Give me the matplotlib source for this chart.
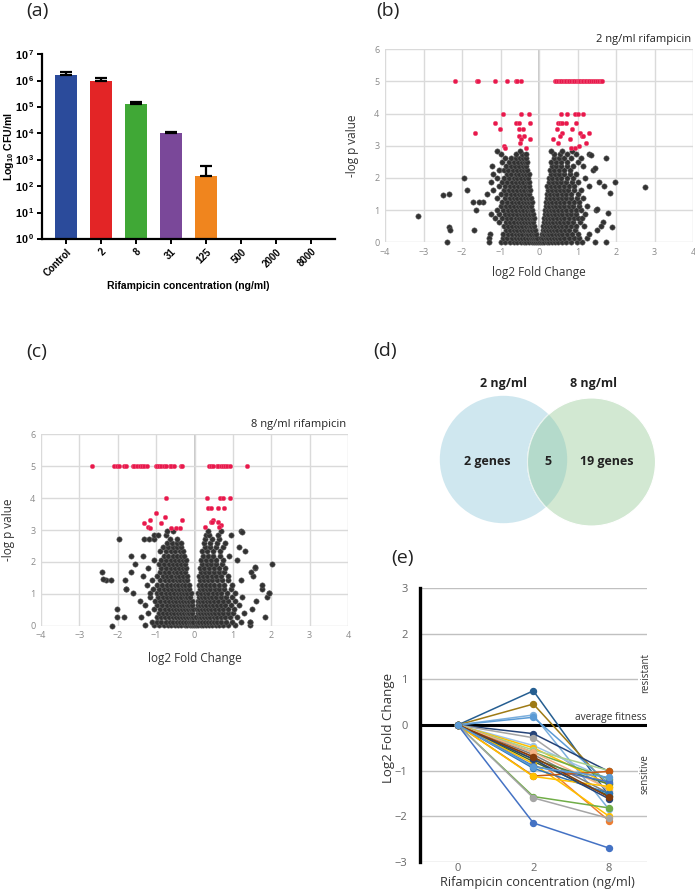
import matplotlib
matplotlib.use('Agg')
import matplotlib.pyplot as plt
from matplotlib.patches import Circle

plt.rcParams['font.family'] = ['Open Sans', 'DejaVu Sans']
plt.rcParams['mathtext.fontset'] = 'custom'
plt.rcParams['mathtext.rm'] = 'Liberation Sans'
plt.rcParams['mathtext.bf'] = 'Liberation Sans:bold'

# ---------------- data: panel (a) ----------------
cfu_labels = ['Control', '2', '8', '31', '125', '500', '2000', '8000']
cfu_mean = [1.6e6, 1.0e6, 1.26e5, 1.0e4, 240, 0, 0, 0]
cfu_err_top = [2.2e6, 1.3e6, 1.5e5, 1.15e4, 570, 0, 0, 0]
bar_colors = ['#2B4B9B', '#E32526', '#40A836', '#7A4899', '#F0851E', '#888888', '#888888', '#888888']

# ---------------- data: panel (b) 2 ng/ml ----------------
b_black_rows = [
    (0.02, [-1.0, -0.88, -0.76, -0.66, -0.57, -0.48, -0.4, -0.33, -0.26, -0.19, -0.13, -0.07, -0.02, 0.03, 0.08, 0.14, 0.2, 0.27, 0.34, 0.42, 0.5, 0.6, 0.7, 0.84, 0.98, 1.12]),
    (0.13, [-0.94, -0.82, -0.71, -0.61, -0.52, -0.44, -0.36, -0.29, -0.22, -0.16, -0.1, -0.05, 0.055, 0.11, 0.17, 0.235, 0.305, 0.38, 0.46, 0.55, 0.65, 0.77, 0.91, 1.05, 1.25]),
    (0.25, [-1.28, -0.93, -0.8, -0.69, -0.6, -0.51, -0.43, -0.35, -0.28, -0.21, -0.14, -0.08, 0.07, 0.13, 0.2, 0.27, 0.35, 0.43, 0.52, 0.61, 0.72, 0.85, 1.02, 1.3]),
    (0.38, [-0.87, -0.75, -0.65, -0.56, -0.47, -0.39, -0.32, -0.25, -0.18, -0.11, 0.1, 0.165, 0.235, 0.31, 0.39, 0.475, 0.565, 0.665, 0.785, 0.935, 1.5]),
    (0.5, [-0.92, -0.81, -0.7, -0.6, -0.51, -0.43, -0.35, -0.27, -0.2, -0.13, 0.1, 0.17, 0.25, 0.33, 0.42, 0.51, 0.6, 0.7, 0.82, 0.97, 1.18]),
    (0.62, [-1.05, -0.865, -0.755, -0.65, -0.555, -0.47, -0.39, -0.31, -0.235, -0.165, 0.135, 0.21, 0.29, 0.375, 0.465, 0.555, 0.65, 0.76, 0.895, 1.07]),
    (0.75, [-1.15, -0.95, -0.83, -0.72, -0.61, -0.52, -0.43, -0.35, -0.27, -0.19, -0.13, 0.13, 0.2, 0.28, 0.37, 0.46, 0.56, 0.66, 0.78, 0.9, 1.0, 1.12]),
    (0.88, [-1.25, -1.05, -0.89, -0.775, -0.665, -0.565, -0.475, -0.39, -0.31, -0.23, -0.16, 0.165, 0.24, 0.325, 0.415, 0.51, 0.61, 0.72, 0.84, 0.95, 1.2]),
    (1.0, [-1.1, -0.93, -0.8, -0.69, -0.59, -0.5, -0.41, -0.32, -0.24, -0.17, 0.15, 0.23, 0.31, 0.4, 0.5, 0.6, 0.71, 0.83, 0.96, 1.1, 1.48]),
    (1.12, [-1.0, -0.865, -0.745, -0.64, -0.545, -0.455, -0.365, -0.28, -0.205, 0.19, 0.27, 0.355, 0.45, 0.55, 0.655, 0.77, 0.895, 1.03, 1.25]),
    (1.25, [-1.45, -0.95, -0.82, -0.71, -0.61, -0.51, -0.42, -0.33, -0.25, -0.19, 0.17, 0.25, 0.34, 0.44, 0.54, 0.65, 0.77, 0.9, 1.05]),
    (1.38, [-1.1, -0.885, -0.765, -0.66, -0.56, -0.465, -0.375, -0.29, -0.22, 0.21, 0.295, 0.39, 0.49, 0.595, 0.71, 0.835, 0.975, 1.15]),
    (1.5, [-1.35, -0.98, -0.85, -0.73, -0.62, -0.52, -0.43, -0.34, -0.25, 0.2, 0.28, 0.38, 0.48, 0.59, 0.7, 0.83, 1.0]),
    (1.62, [-1.2, -0.915, -0.79, -0.675, -0.57, -0.475, -0.385, -0.295, -0.23, 0.24, 0.33, 0.43, 0.535, 0.645, 0.765, 0.915, 1.1]),
    (1.75, [-1.05, -0.88, -0.76, -0.64, -0.54, -0.45, -0.36, -0.27, 0.22, 0.31, 0.41, 0.52, 0.64, 0.77, 0.92, 1.3]),
    (1.88, [-1.25, -0.96, -0.82, -0.7, -0.59, -0.495, -0.405, -0.315, -0.25, 0.265, 0.36, 0.465, 0.58, 0.705, 0.845, 1.0]),
    (2.0, [-1.1, -0.9, -0.78, -0.66, -0.56, -0.46, -0.37, -0.28, 0.25, 0.35, 0.46, 0.58, 0.72, 0.88, 1.2]),
    (2.12, [-1.2, -0.84, -0.72, -0.61, -0.51, -0.415, -0.325, -0.27, 0.3, 0.405, 0.52, 0.65, 0.8, 0.95]),
    (2.25, [-1.05, -0.92, -0.8, -0.68, -0.57, -0.47, -0.38, -0.3, 0.28, 0.39, 0.51, 0.64, 0.8, 1.4]),
    (2.38, [-1.22, -0.86, -0.74, -0.625, -0.52, -0.425, -0.34, 0.335, 0.45, 0.575, 0.72, 0.88, 1.15]),
    (2.5, [-0.95, -0.78, -0.66, -0.55, -0.45, -0.36, -0.3, 0.32, 0.45, 0.58, 0.73, 1.0]),
    (2.62, [-0.88, -0.72, -0.605, -0.5, -0.405, -0.33, 0.385, 0.515, 0.655, 0.82, 1.1]),
    (2.75, [-1.0, -0.6, -0.45, -0.35, 0.4, 0.55, 0.72, 0.95, 1.3]),
    (2.85, [-1.1, -0.5, 0.3, 0.6, 0.85]),
]
b_sparse = [(-3.15, 0.82), (-2.5, 1.47), (-2.35, 1.5), (-2.35, 0.47), (-2.3, 0.38), (-2.4, 0.02),
            (-1.95, 2.0), (-1.88, 1.62), (-1.72, 1.25), (-1.68, 0.37), (-1.63, 1.0), (-1.55, 1.25),
            (-1.3, 0.12), (-1.3, 0.02), (2.75, 1.72), (1.98, 1.88), (1.75, 2.62), (1.85, 1.52),
            (1.8, 0.92), (1.9, 0.47), (1.75, 0.02), (1.45, 0.02), (1.5, 1.05), (1.55, 1.88),
            (1.65, 0.62), (1.62, 0.5), (1.7, 1.75), (1.35, 2.7), (1.45, 2.3)]
b_red_rows = [
    (5.0, [-2.17, -1.62, -1.58, -1.14, -0.84, -0.6, -0.56, -0.47,
           0.41, 0.45, 0.5, 0.54, 0.58, 0.63, 0.67, 0.71, 0.75, 0.79, 0.83, 0.88, 0.92, 0.96, 1.0,
           1.03, 1.07, 1.11, 1.15, 1.19, 1.23, 1.27, 1.31, 1.35, 1.4, 1.45, 1.5, 1.55, 1.6, 1.64]),
    (4.0, [-0.93, -0.48, -0.26, 0.56, 0.74, 0.94, 1.0, 1.15]),
    (3.7, [-1.14, -0.61, -0.52, -0.24, 0.5, 0.54, 0.59, 0.69, 0.97]),
    (3.52, [-1.02, -0.51, -0.41, 0.46, 0.87]),
    (3.4, [-1.66, 0.6, 1.06, 1.29]),
    (3.3, [-0.53, -0.38, 0.54, 1.11, 1.15]),
    (3.2, [-0.48, -0.23, 0.37, 0.8]),
    (3.1, [-0.5, 0.5, 1.23]),
    (2.98, [-0.9, 1.03]),
    (2.92, [-0.88, -0.35, 0.82, 0.93]),
]

# ---------------- data: panel (c) 8 ng/ml ----------------
c_black_rows = [
    (0.02, [-1.3, -1.05, -0.92, -0.8, -0.7, -0.6, -0.51, -0.42, -0.34, -0.26, -0.19, -0.12, -0.06, -0.01, 0.04, 0.1, 0.16, 0.23, 0.3, 0.38, 0.46, 0.55, 0.64, 0.74, 0.88, 1.05, 1.45]),
    (0.13, [-1.1, -0.985, -0.86, -0.75, -0.65, -0.555, -0.465, -0.38, -0.3, -0.225, -0.155, -0.09, -0.035, 0.07, 0.13, 0.195, 0.265, 0.34, 0.42, 0.505, 0.595, 0.69, 0.81, 0.965, 1.2, 1.45]),
    (0.26, [-1.4, -0.99, -0.87, -0.76, -0.66, -0.57, -0.48, -0.4, -0.32, -0.24, -0.17, -0.1, -0.04, 0.05, 0.11, 0.18, 0.25, 0.33, 0.41, 0.5, 0.59, 0.69, 0.8, 0.93, 1.1]),
    (0.4, [-1.2, -0.93, -0.815, -0.71, -0.615, -0.525, -0.44, -0.36, -0.28, -0.205, -0.135, -0.07, 0.08, 0.145, 0.215, 0.29, 0.37, 0.455, 0.545, 0.64, 0.745, 0.865, 1.0, 1.3]),
    (0.52, [-1.05, -0.9, -0.78, -0.67, -0.57, -0.48, -0.4, -0.32, -0.24, -0.17, -0.1, -0.05, 0.06, 0.12, 0.19, 0.27, 0.35, 0.44, 0.53, 0.63, 0.74, 0.87, 1.02, 1.5]),
    (0.65, [-1.3, -0.975, -0.84, -0.725, -0.62, -0.525, -0.44, -0.36, -0.28, -0.205, -0.135, -0.075, 0.09, 0.155, 0.23, 0.31, 0.395, 0.485, 0.58, 0.685, 0.805, 0.945, 1.15]),
    (0.78, [-1.42, -1.02, -0.89, -0.77, -0.66, -0.56, -0.47, -0.38, -0.3, -0.22, -0.15, -0.07, 0.08, 0.15, 0.23, 0.32, 0.41, 0.51, 0.62, 0.74, 0.88, 1.05, 1.6]),
    (0.9, [-1.15, -0.955, -0.83, -0.715, -0.61, -0.515, -0.425, -0.34, -0.26, -0.185, -0.11, 0.115, 0.19, 0.275, 0.365, 0.46, 0.565, 0.68, 0.81, 0.965, 1.25, 1.9]),
    (1.03, [-1.6, -1.16, -0.99, -0.86, -0.74, -0.63, -0.53, -0.44, -0.35, -0.27, -0.19, -0.1, 0.1, 0.18, 0.27, 0.36, 0.47, 0.58, 0.7, 0.85, 1.06, 1.94]),
    (1.16, [-1.78, -1.075, -0.925, -0.8, -0.685, -0.58, -0.485, -0.395, -0.31, -0.23, -0.145, 0.14, 0.225, 0.315, 0.415, 0.525, 0.64, 0.775, 0.955, 1.77]),
    (1.29, [-1.25, -0.97, -0.84, -0.72, -0.61, -0.51, -0.42, -0.33, -0.24, -0.14, 0.11, 0.2, 0.3, 0.4, 0.52, 0.64, 0.78, 0.97, 1.75]),
    (1.42, [-2.3, -2.17, -1.81, -1.1, -0.905, -0.78, -0.665, -0.56, -0.465, -0.375, -0.285, -0.19, 0.155, 0.25, 0.35, 0.46, 0.58, 0.71, 0.875, 1.2]),
    (1.55, [-1.35, -0.99, -0.83, -0.71, -0.6, -0.49, -0.4, -0.3, -0.19, 0.13, 0.23, 0.33, 0.45, 0.57, 0.7, 0.86, 1.53]),
    (1.68, [-2.4, -1.66, -0.91, -0.77, -0.655, -0.545, -0.445, -0.35, -0.245, 0.18, 0.28, 0.39, 0.51, 0.635, 0.78, 1.46]),
    (1.81, [-1.2, -0.86, -0.73, -0.61, -0.5, -0.4, -0.3, -0.22, 0.15, 0.26, 0.37, 0.5, 0.64, 0.8, 1.57]),
    (1.94, [-1.54, -0.93, -0.795, -0.67, -0.555, -0.45, -0.35, -0.26, 0.205, 0.315, 0.435, 0.57, 0.72, 2.01]),
    (2.07, [-1.05, -0.86, -0.74, -0.62, -0.51, -0.41, -0.31, -0.23, 0.17, 0.29, 0.42, 0.57, 0.75, 1.1]),
    (2.2, [-1.66, -1.35, -0.8, -0.68, -0.565, -0.46, -0.36, -0.27, 0.23, 0.355, 0.495, 0.66, 0.9]),
    (2.33, [-0.9, -0.75, -0.62, -0.5, -0.39, -0.3, 0.2, 0.33, 0.48, 0.66, 1.32]),
    (2.46, [-0.825, -0.685, -0.56, -0.445, -0.345, 0.265, 0.405, 0.57, 0.75, 1.15]),
    (2.59, [-0.72, -0.58, -0.45, -0.35, 0.25, 0.4, 0.58, 0.8]),
    (2.72, [-1.96, -1.32, -1.18, -1.06, -0.65, -0.45, 0.28, 0.45, 0.63]),
    (2.85, [-1.06, -0.95, -0.75, 0.31, 0.38, 0.62, 0.95]),
    (2.97, [-0.72, -0.56, 0.36, 0.7, 1.22]),
]
c_sparse = [(-2.14, 0.0), (-2.03, 0.26), (-2.03, 0.52), (-2.38, 1.45), (-1.78, 1.14),
            (-1.84, 0.26), (1.84, 0.26), (1.45, 0.13), (1.94, 1.04), (1.57, 1.85), (1.24, 2.93)]
c_red_rows = [
    (5.0, [-2.68, -2.1, -2.03, -1.98, -1.83, -1.79, -1.61, -1.57, -1.51, -1.42, -1.38, -1.32, -1.25,
           -1.01, -0.97, -0.92, -0.87, -0.8, -0.74, -0.64, -0.6, -0.54, -0.36, -0.32,
           0.38, 0.43, 0.49, 0.58, 0.62, 0.68, 0.75, 0.8, 0.85, 0.92, 1.36]),
    (4.0, [-0.73, 0.33, 0.66, 0.73, 0.92]),
    (3.7, [0.36, 0.43, 0.6, 0.77]),
    (3.52, [-1.01]),
    (3.4, [-0.78]),
    (3.3, [-1.17, -0.32, 0.49]),
    (3.25, [0.42, 0.46, 0.6]),
    (3.22, [-1.32, -0.86]),
    (3.15, [0.68]),
    (3.1, [-1.21, 0.27, 0.64]),
    (3.05, [-1.17, -0.6, -0.49, -0.38]),
]

# ---------------- data: panel (d) ----------------
venn_sets = ['2 ng/ml', '8 ng/ml']
venn_counts = ['2 genes', '5', '19 genes']

# ---------------- data: panel (e) ----------------
e_conc = ['0', '2', '8']
e_at2 = [0.75, 0.46, 0.22, 0.17, -0.19, -0.28, -0.45, -0.5, -0.55, -0.6, -0.65, -0.6, -0.7,
         -0.75, -0.8, -0.85, -0.9, -0.95, -1.12, -1.13, -1.57, -1.6, -2.15, -0.75, -0.7, -0.92]
e_at8 = [-1.55, -1.35, -1.85, -1.28, -1.02, -1.45, -1.2, -1.3, -1.0, -1.18, -1.5, -1.4, -2.1,
         -1.3, -1.55, -2.0, -1.25, -1.5, -1.02, -1.35, -1.82, -2.05, -2.7, -1.62, -1.58, -1.15]
e_colors = ['#255E91', '#9E7A14', '#7CAFDD', '#5B9BD5', '#264478', '#A5A5A5', '#9DC3E6', '#FFC000',
            '#A9D18E', '#70AD47', '#7F7F7F', '#F4B183', '#ED7D31', '#548235', '#43682B', '#FFC000',
            '#4472C4', '#2E75B6', '#C55A11', '#FFC000', '#70AD47', '#A5A5A5', '#4472C4', '#264478',
            '#843C0C', '#5B9BD5']

# =====================================================================
W, H = 695, 893
fig = plt.figure(figsize=(W / 100, H / 100), dpi=100)


def px_axes(l, t, r, b, **kw):
    return fig.add_axes([l / W, 1 - b / H, (r - l) / W, (b - t) / H], **kw)


# panel labels
for lab, (x, y) in {'(a)': (37, 11), '(b)': (388, 11), '(c)': (37, 352),
                    '(d)': (385, 351), '(e)': (402, 558)}.items():
    fig.text(x / W, 1 - y / H, lab, fontsize=14, ha='center', va='center', color='#222222')

# ---------------- panel (a) ----------------
axa = px_axes(42, 54.3, 335, 239)
xs = list(range(len(cfu_labels)))
for i, v in enumerate(cfu_mean):
    if v > 0:
        axa.bar(i, v - 1, bottom=1, width=0.63, color=bar_colors[i], zorder=2)
        axa.errorbar(i, v, yerr=[[0], [cfu_err_top[i] - v]], fmt='none', ecolor='black',
                     elinewidth=1.6, capsize=4.3, capthick=1.6, zorder=3)
axa.set_yscale('log')
axa.set_ylim(1, 1e7)
axa.set_xlim(-0.69, 7.69)
axa.set_yticks([10 ** k for k in range(8)])
axa.set_yticklabels([r'$\mathbf{10^{\,%d}}$' % k for k in range(8)], fontsize=7.8)
axa.yaxis.set_minor_locator(matplotlib.ticker.NullLocator())
axa.set_xticks(xs)
axa.set_xticklabels(cfu_labels, rotation=45, ha='right', rotation_mode='anchor',
                    fontsize=7, fontweight='bold', family='Liberation Sans')
for s in ['top', 'right']:
    axa.spines[s].set_visible(False)
for s in ['left', 'bottom']:
    axa.spines[s].set_linewidth(1.6)
axa.tick_params(width=1.4, length=3.5, pad=2)
axa.set_ylabel(r'Log$_{\mathbf{10}}$ CFU/ml', fontsize=7.6, fontweight='bold', family='Liberation Sans')
axa.yaxis.set_label_coords(-0.09, 0.5)
axa.set_xlabel('Rifampicin concentration (ng/ml)', fontsize=7.5, fontweight='bold',
               family='Liberation Sans')
axa.xaxis.set_label_coords(0.5, -0.23)


# ---------------- volcano panels ----------------
def volcano(ax, black_rows, sparse, red_rows, title):
    bx, by = [], []
    for y, xl in black_rows:
        for x in xl:
            bx.append(x)
            by.append(y)
    for x, y in sparse:
        bx.append(x)
        by.append(y)
    rx, ry = [], []
    for y, xl in red_rows:
        for x in xl:
            rx.append(x)
            ry.append(y)
    ax.set_xlim(-4, 4)
    ax.set_ylim(0, 6)
    ax.set_xticks(range(-4, 5))
    ax.set_yticks(range(0, 7))
    ax.grid(True, color='#dadada', lw=1.0)
    ax.set_axisbelow(True)
    ax.axvline(0, color='#c4c4c4', lw=1.3, zorder=0.5)
    for s in ax.spines.values():
        s.set_visible(False)
    ax.tick_params(length=0, labelsize=6.5, labelcolor='#8a8a8a', pad=4)
    ax.scatter(bx, by, s=15, facecolor='#323232', edgecolor='#6e6e6e', linewidths=0.35,
               zorder=3, clip_on=False)
    ax.scatter(rx, ry, s=11, facecolor='#E8184C', edgecolor='#F06080', linewidths=0.3,
               zorder=4, clip_on=False)
    ax.set_xlabel('log2 Fold Change', fontsize=8.5, color='#333333')
    ax.set_ylabel('-log p value', fontsize=8.5, color='#333333')
    ax.text(0.995, 1.05, title, transform=ax.transAxes, ha='right', va='center',
            fontsize=8, color='#222222')


axb = px_axes(385, 49.3, 693, 242.3)
volcano(axb, b_black_rows, b_sparse, b_red_rows, '2 ng/ml rifampicin')
axb.yaxis.set_label_coords(-0.086, 0.5)
axb.xaxis.set_label_coords(0.5, -0.125)

axc = px_axes(41, 434.3, 348, 625.7)
volcano(axc, c_black_rows, c_sparse, c_red_rows, '8 ng/ml rifampicin')
axc.yaxis.set_label_coords(-0.084, 0.5)
axc.xaxis.set_label_coords(0.5, -0.135)

# ---------------- panel (d) Venn ----------------
axd = px_axes(350, 290, 695, 560)
axd.set_xlim(350, 695)
axd.set_ylim(560, 290)
axd.axis('off')
c_left = Circle((503.5, 459.5), 63.7, facecolor='#CFE7EF', edgecolor='none', zorder=1)
c_right = Circle((591.5, 462), 64, facecolor='#D2E8D2', edgecolor='white', lw=0.8, zorder=2)
axd.add_patch(c_left)
axd.add_patch(c_right)
c_over = Circle((591.5, 462), 64, facecolor='#B4DACB', edgecolor='#EAF4F0', lw=0.8, zorder=3)
axd.add_patch(c_over)
c_over.set_clip_path(c_left)
axd.text(503, 384, venn_sets[0], ha='center', va='center', fontsize=9, fontweight='bold', color='#222222')
axd.text(593, 384, venn_sets[1], ha='center', va='center', fontsize=9, fontweight='bold', color='#222222')
axd.text(487, 461.7, venn_counts[0], ha='center', va='center', fontsize=9, fontweight='bold', color='#222222', zorder=5)
axd.text(548, 461.7, venn_counts[1], ha='center', va='center', fontsize=9, fontweight='bold', color='#222222', zorder=5)
axd.text(607, 461.7, venn_counts[2], ha='center', va='center', fontsize=9, fontweight='bold', color='#222222', zorder=5)

# ---------------- panel (e) ----------------
axe = px_axes(420, 588.3, 646.7, 861.7)
axe.set_xlim(-0.5, 2.5)
axe.set_ylim(-3, 3)
for v in [3, 2, 1, -1, -2, -3]:
    axe.axhline(v, color='#c0c0c0', lw=1.0, zorder=0)
axe.axhline(0, color='black', lw=2.2, zorder=1)
for s in ['top', 'right', 'bottom']:
    axe.spines[s].set_visible(False)
axe.spines['left'].set_linewidth(2.4)
axe.spines['left'].set_color('black')
axe.set_xticks([0, 1, 2])
axe.set_xticklabels(e_conc)
axe.set_yticks(range(-3, 4))
axe.tick_params(length=0, labelsize=8, labelcolor='#666666')
axe.tick_params(axis='y', pad=9)
axe.tick_params(axis='x', pad=1)
for i in range(len(e_at2)):
    axe.plot([0, 1, 2], [0, e_at2[i], e_at8[i]], '-o', color=e_colors[i], lw=1.1, ms=4.3,
             zorder=2 + i * 0.01)
axe.text(2.5, 0.05, 'average fitness', ha='right', va='bottom', fontsize=7.3, color='#333333')
axe.text(2.48, 1.15, 'resistant', rotation=90, ha='center', va='center', fontsize=7,
         color='#333333', bbox=dict(fc='white', ec='none', pad=1.0), zorder=6, clip_on=False)
axe.text(2.48, -1.07, 'sensitive', rotation=90, ha='center', va='center', fontsize=7,
         color='#333333', bbox=dict(fc='white', ec='none', pad=1.0), zorder=6, clip_on=False)
axe.set_ylabel('Log2 Fold Change', fontsize=9.5, color='#333333')
axe.yaxis.set_label_coords(-0.112, 0.49)
axe.set_xlabel('Rifampicin concentration (ng/ml)', fontsize=9.2, color='#333333')
axe.xaxis.set_label_coords(0.52, -0.052)

fig.savefig('out.png', dpi=100)
